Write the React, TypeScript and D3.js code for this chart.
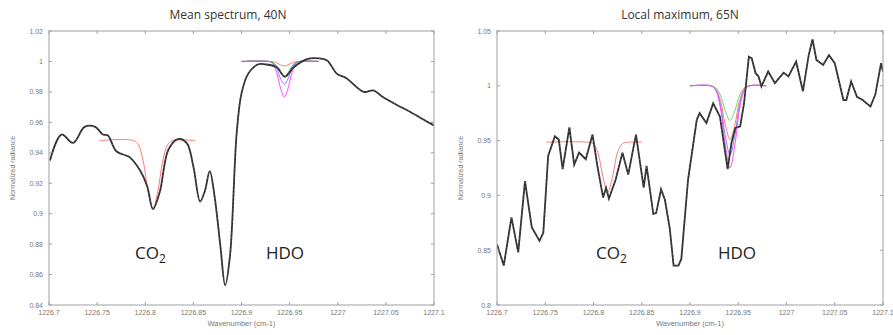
import React from "react";
import * as d3 from "d3";

// ---- data ----
const xTicks = [1226.7, 1226.75, 1226.8, 1226.85, 1226.9, 1226.95, 1227, 1227.05, 1227.1];
const leftYTicks = [0.84, 0.86, 0.88, 0.9, 0.92, 0.94, 0.96, 0.98, 1, 1.02];
const rightYTicks = [0.8, 0.85, 0.9, 0.95, 1, 1.05];

// mean spectrum, 40N
const meanWn = [
  1226.701, 1226.713, 1226.725, 1226.737, 1226.748, 1226.756, 1226.761, 1226.77, 1226.781, 1226.784,
  1226.795, 1226.802, 1226.808, 1226.815, 1226.824, 1226.834, 1226.843, 1226.85, 1226.857, 1226.862,
  1226.867, 1226.872, 1226.878, 1226.883, 1226.888, 1226.895, 1226.9, 1226.907, 1226.917, 1226.926,
  1226.937, 1226.945, 1226.954, 1226.968, 1226.98, 1226.989, 1226.999, 1227.009, 1227.027, 1227.037,
  1227.046, 1227.061, 1227.075, 1227.092, 1227.1,
];
const meanRad = [
  0.935, 0.952, 0.9465, 0.957, 0.957, 0.952, 0.9515, 0.941, 0.938, 0.937,
  0.928, 0.918, 0.903, 0.914, 0.942, 0.949, 0.9465, 0.931, 0.908, 0.915,
  0.928, 0.9115, 0.879, 0.853, 0.872, 0.953, 0.979, 0.992, 0.998, 0.998,
  0.996, 0.99, 0.996, 1.0015, 1.002, 1.0006, 0.992, 0.989, 0.98, 0.981,
  0.977, 0.9716, 0.967, 0.9607, 0.958,
];

// local maximum, 65N
const localWn = [
  1226.7, 1226.707, 1226.715, 1226.722, 1226.729, 1226.736, 1226.744, 1226.748, 1226.753, 1226.76,
  1226.764, 1226.768, 1226.775, 1226.78, 1226.785, 1226.792, 1226.799, 1226.804, 1226.81, 1226.813,
  1226.816, 1226.823, 1226.83, 1226.836, 1226.844, 1226.852, 1226.855, 1226.862, 1226.865, 1226.87,
  1226.874, 1226.879, 1226.883, 1226.888, 1226.891, 1226.898, 1226.907, 1226.91, 1226.917, 1226.924,
  1226.931, 1226.939, 1226.943, 1226.947, 1226.952, 1226.956, 1226.961, 1226.964, 1226.968, 1226.971,
  1226.974, 1226.981, 1226.988, 1226.997, 1227.002, 1227.01, 1227.017, 1227.023, 1227.027, 1227.031,
  1227.038, 1227.044, 1227.05, 1227.059, 1227.062, 1227.067, 1227.073, 1227.079, 1227.087, 1227.092,
  1227.098, 1227.1,
];
const localRad = [
  0.8555, 0.836, 0.88, 0.848, 0.913, 0.871, 0.8585, 0.866, 0.936, 0.954,
  0.951, 0.924, 0.962, 0.928, 0.939, 0.933, 0.9555, 0.927, 0.898, 0.907,
  0.897, 0.9145, 0.939, 0.919, 0.9555, 0.907, 0.927, 0.883, 0.884, 0.9055,
  0.896, 0.87, 0.836, 0.836, 0.842, 0.9145, 0.969, 0.975, 0.966, 0.984,
  0.972, 0.924, 0.948, 0.9615, 0.963, 0.984, 1.0266, 1.025, 1.0115, 1.0085,
  0.9994, 1.013, 1.0024, 1.012, 1.0085, 1.022, 0.995, 1.028, 1.0424, 1.0236,
  1.019, 1.028, 1.0206, 0.987, 0.987, 1.004, 0.99, 0.987, 0.981, 0.992,
  1.0206, 1.013,
];

// fitted lines, left panel
const leftCo2Wn = [1226.752, 1226.788, 1226.793, 1226.798, 1226.803, 1226.808, 1226.813, 1226.818, 1226.823, 1226.828, 1226.852];
const leftCo2Fit = [0.948, 0.948, 0.945, 0.934, 0.9145, 0.903, 0.9145, 0.934, 0.945, 0.948, 0.948];

const leftHdoWn = [1226.9, 1226.9285, 1226.9325, 1226.9365, 1226.9405, 1226.9445, 1226.9485, 1226.9525, 1226.9565, 1226.9605, 1226.98];
const leftHdoRed = [1, 1, 0.9998, 0.9991, 0.9978, 0.997, 0.9978, 0.9991, 0.9998, 1, 1];
const leftHdoGreen = [1, 1, 0.9993, 0.9969, 0.9926, 0.99, 0.9926, 0.9969, 0.9993, 1, 1];
const leftHdoBlue = [1, 1, 0.999, 0.9954, 0.9888, 0.985, 0.9888, 0.9954, 0.999, 1, 1];
const leftHdoMagenta = [1, 1, 0.9984, 0.9928, 0.9826, 0.9766, 0.9826, 0.9928, 0.9984, 1, 1];

// fitted lines, right panel
const rightCo2Wn = [1226.7515, 1226.7947, 1226.7997, 1226.8047, 1226.8097, 1226.8147, 1226.8197, 1226.8247, 1226.8297, 1226.8347, 1226.85];
const rightCo2Fit = [0.9485, 0.9485, 0.947, 0.9386, 0.917, 0.9024, 0.917, 0.9386, 0.947, 0.9485, 0.9485];

const rightHdoWn = [1226.9, 1226.9215, 1226.9265, 1226.9315, 1226.9365, 1226.9415, 1226.9465, 1226.9515, 1226.9565, 1226.9615, 1226.979];
const rightHdoGreen = [1, 1, 0.9983, 0.9915, 0.9773, 0.9685, 0.9773, 0.9915, 0.9983, 1, 1];
const rightHdoRed = [1, 1, 0.9974, 0.9868, 0.9647, 0.951, 0.9647, 0.9868, 0.9974, 1, 1];
const rightHdoBlue = [1, 1, 0.9966, 0.983, 0.9546, 0.937, 0.9546, 0.983, 0.9966, 1, 1];
const rightHdoMagenta = [1, 1, 0.996, 0.9798, 0.946, 0.925, 0.946, 0.9798, 0.996, 1, 1];

const RED = "#ff7a7a";
const GREEN = "#3fb34f";
const LIGHTGREEN = "#66dd66";
const BLUE = "#8080ff";
const MAGENTA = "#ff4cff";

const fmtX = (v: number) => String(+v.toFixed(2));
const fmtY = (v: number) => String(+v.toFixed(2));

type Fit = { wn: number[]; v: number[]; color: string };

function Panel({ x0, x1, y0, y1, yDomain, yTicks, title, titleX, wn, rad, fits, smooth, co2X, hdoX, labelY }: any) {
  const x = d3.scaleLinear().domain([1226.7, 1227.1]).range([x0, x1]);
  const y = d3.scaleLinear().domain(yDomain).range([y1, y0]);
  const curve = smooth ? d3.curveCatmullRom : d3.curveLinear;
  const line = d3
    .line<number>()
    .x((_, i) => x(wn[i]))
    .y((d) => y(d))
    .curve(curve);
  const fitPath = (f: Fit) =>
    d3
      .line<number>()
      .x((_, i) => x(f.wn[i]))
      .y((d) => y(d))
      .curve(d3.curveCatmullRom)(f.v) || "";
  const axisColor = "#a0a0a0";
  const tickColor = "#777";
  return (
    <g>
      <text x={titleX} y={19} textAnchor="middle" fontSize={12} fill="#333" fontFamily="'Open Sans', sans-serif">
        {title}
      </text>
      <clipPath id={`clip${x0}`}>
        <rect x={x0} y={y0} width={x1 - x0} height={y1 - y0} />
      </clipPath>
      <g clipPath={`url(#clip${x0})`}>
        {fits.map((f: Fit, i: number) => (
          <path key={i} d={fitPath(f)} fill="none" stroke={f.color} strokeWidth={1} />
        ))}
        <path d={line(rad) || ""} fill="none" stroke="#2e2e2e" strokeWidth={1.8} />
        <path d={line(rad) || ""} fill="none" stroke="#9a9a9a" strokeWidth={0.5} strokeDasharray="1 3" />
      </g>
      <rect x={x0} y={y0} width={x1 - x0} height={y1 - y0} fill="none" stroke={axisColor} strokeWidth={1} />
      {xTicks.map((t) => (
        <g key={t}>
          <line x1={x(t)} x2={x(t)} y1={y1} y2={y1 - 3} stroke={axisColor} />
          <line x1={x(t)} x2={x(t)} y1={y0} y2={y0 + 3} stroke={axisColor} />
          <text x={x(t)} y={y1 + 10} textAnchor="middle" fontSize={7} fill={tickColor} fontFamily="'Liberation Sans', Arial, sans-serif">
            {fmtX(t)}
          </text>
        </g>
      ))}
      {yTicks.map((t: number) => (
        <g key={t}>
          <line x1={x0} x2={x0 + 3} y1={y(t)} y2={y(t)} stroke={axisColor} />
          <line x1={x1} x2={x1 - 3} y1={y(t)} y2={y(t)} stroke={axisColor} />
          <text x={x0 - 6} y={y(t) + 2.5} textAnchor="end" fontSize={7} fill={tickColor} fontFamily="'Liberation Sans', Arial, sans-serif">
            {fmtY(t)}
          </text>
        </g>
      ))}
      <text x={(x0 + x1) / 2} y={y1 + 21} textAnchor="middle" fontSize={7.5} fill={tickColor} fontFamily="'Liberation Sans', Arial, sans-serif">
        Wavenumber (cm-1)
      </text>
      <text
        transform={`translate(${labelY},${(y0 + y1) / 2}) rotate(-90)`}
        textAnchor="middle"
        fontSize={7}
        fill={tickColor}
        fontFamily="'Liberation Sans', Arial, sans-serif"
      >
        Normalized radiance
      </text>
      <text x={co2X} y={259} fontSize={17} fill="#222" fontFamily="'Open Sans', sans-serif">
        CO<tspan fontSize={12} dy={4}>2</tspan>
      </text>
      <text x={hdoX} y={259} fontSize={17} fill="#222" fontFamily="'Open Sans', sans-serif">
        HDO
      </text>
    </g>
  );
}

export default function App() {
  const leftFits: Fit[] = [
    { wn: leftCo2Wn, v: leftCo2Fit, color: RED },
    { wn: leftHdoWn, v: leftHdoMagenta, color: MAGENTA },
    { wn: leftHdoWn, v: leftHdoBlue, color: BLUE },
    { wn: leftHdoWn, v: leftHdoRed, color: RED },
    { wn: leftHdoWn, v: leftHdoGreen, color: GREEN },
  ];
  const rightFits: Fit[] = [
    { wn: rightCo2Wn, v: rightCo2Fit, color: RED },
    { wn: rightHdoWn, v: rightHdoGreen, color: LIGHTGREEN },
    { wn: rightHdoWn, v: rightHdoRed, color: RED },
    { wn: rightHdoWn, v: rightHdoBlue, color: BLUE },
    { wn: rightHdoWn, v: rightHdoMagenta, color: MAGENTA },
  ];
  return (
    <svg width={893} height={335} style={{ position: "absolute", left: 0, top: 0, background: "#fff" }}>
      <Panel
        x0={49} x1={434} y0={31} y1={305}
        yDomain={[0.84, 1.02]} yTicks={leftYTicks}
        title="Mean spectrum, 40N" titleX={228}
        wn={meanWn} rad={meanRad} fits={leftFits} smooth
        co2X={135} hdoX={266} labelY={15}
      />
      <Panel
        x0={497} x1={883} y0={31} y1={305}
        yDomain={[0.8, 1.05]} yTicks={rightYTicks}
        title="Local maximum, 65N" titleX={680}
        wn={localWn} rad={localRad} fits={rightFits} smooth={false}
        co2X={596} hdoX={718} labelY={463}
      />
    </svg>
  );
}
